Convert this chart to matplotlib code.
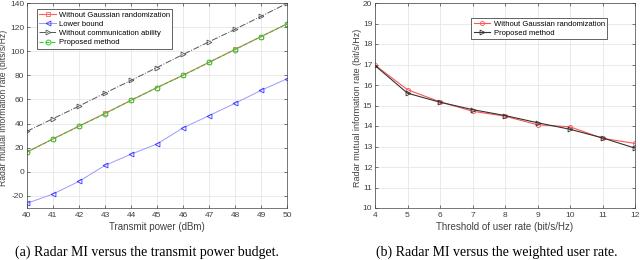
import matplotlib
matplotlib.use('Agg')
import matplotlib.pyplot as plt

# (a) radar MI versus transmit power budget
power_dbm = [40, 41, 42, 43, 44, 45, 46, 47, 48, 49, 50]
mi_no_gauss_a = [16.5, 27.3, 37.9, 48.4, 59.3, 69.9, 80.1, 90.8, 101.5, 112.1, 122.7]
mi_lower_bound = [-26.1, -18.4, -7.9, 5.3, 14.6, 23.1, 36.4, 46.6, 56.8, 67.5, 77.2]
mi_no_comm = [33.6, 44.1, 54.5, 65.3, 75.8, 86.5, 97.3, 107.8, 118.2, 128.9, 139.7]
mi_proposed_a = [16.3, 27.3, 37.8, 48.3, 59.3, 69.8, 80.0, 90.7, 101.4, 112.1, 122.6]

# (b) radar MI versus user rate threshold
rate_threshold = [4, 5, 6, 7, 8, 9, 10, 11, 12]
mi_no_gauss_b = [16.97, 15.77, 15.18, 14.72, 14.48, 14.06, 13.96, 13.40, 13.15]
mi_proposed_b = [16.95, 15.60, 15.16, 14.80, 14.51, 14.16, 13.84, 13.42, 12.92]

plt.rcParams['font.family'] = ['Liberation Sans', 'DejaVu Sans']
plt.rcParams['axes.unicode_minus'] = False

TICK_COLOR = '#404040'
GRID_COLOR = '#e6e6e6'


def style_axes(ax):
    ax.grid(True, color=GRID_COLOR, linewidth=0.6)
    ax.set_axisbelow(True)
    ax.tick_params(direction='in', length=2.5, width=0.5, labelsize=6,
                   colors=TICK_COLOR, top=True, right=True)
    ax.tick_params(axis='y', pad=2)
    ax.tick_params(axis='x', pad=3)
    for sp in ax.spines.values():
        sp.set_color('#404040')
        sp.set_linewidth(0.5)


def style_legend(leg):
    leg.get_frame().set_edgecolor('#262626')
    leg.get_frame().set_linewidth(0.5)


fig = plt.figure(figsize=(6.4, 2.6), dpi=100)

# left panel
ax1 = fig.add_axes([27 / 640, 1 - 208 / 260, 260 / 640, 205 / 260])
ax1.plot(power_dbm, mi_no_gauss_a, color='#ff6060', linestyle='-', linewidth=0.8,
         marker='s', markersize=3, markerfacecolor='none', markeredgewidth=0.6,
         label='Without Gaussian randomization')
ax1.plot(power_dbm, mi_lower_bound, color='#9999ff', linestyle='-', linewidth=0.7,
         marker='<', markersize=3.5, markerfacecolor='none', markeredgecolor='#3333ff',
         markeredgewidth=0.6, label='Lower bound')
ax1.plot(power_dbm, mi_no_comm, color='#555555', linestyle='-.', linewidth=0.7,
         marker='>', markersize=3.5, markerfacecolor='none', markeredgewidth=0.6,
         label='Without communication ability')
ax1.plot(power_dbm, mi_proposed_a, color='#33cc33', linestyle='--', linewidth=0.8,
         marker='o', markersize=3.5, markerfacecolor='none', markeredgewidth=0.7,
         label='Proposed method')
ax1.set_xlim(40, 50)
ax1.set_ylim(-30, 140)
ax1.set_xticks(power_dbm)
ax1.set_yticks(range(-20, 141, 20))
style_axes(ax1)
ax1.set_xlabel('Transmit power (dBm)', fontsize=7, color=TICK_COLOR, labelpad=2)
ax1.set_ylabel('Radar mutual information rate (bits/s/Hz)', fontsize=6.2,
               color=TICK_COLOR)
ax1.yaxis.set_label_coords(-0.072, 0.49)
leg1 = ax1.legend(loc='upper left', bbox_to_anchor=(0.038, 0.971), fontsize=5.5,
                  handlelength=2.2, handletextpad=0.4, borderpad=0.3,
                  labelspacing=0.25, fancybox=False, framealpha=1, borderaxespad=0)
style_legend(leg1)

# right panel
ax2 = fig.add_axes([375 / 640, 1 - 208 / 260, 260 / 640, 205 / 260])
ax2.plot(rate_threshold, mi_no_gauss_b, color='#ff5555', linestyle='-', linewidth=0.8,
         marker='o', markersize=3, markerfacecolor='none', markeredgewidth=0.6,
         label='Without Gaussian randomization')
ax2.plot(rate_threshold, mi_proposed_b, color='#333333', linestyle='-', linewidth=0.8,
         marker='>', markersize=3.5, markerfacecolor='none', markeredgewidth=0.6,
         label='Proposed method')
ax2.set_xlim(4, 12)
ax2.set_ylim(10, 20)
ax2.set_xticks(rate_threshold)
ax2.set_yticks(range(10, 21))
style_axes(ax2)
ax2.set_xlabel('Threshold of user rate (bit/s/Hz)', fontsize=7, color=TICK_COLOR,
               labelpad=2)
ax2.set_ylabel('Radar mutual information rate (bit/s/Hz)', fontsize=6.5,
               color=TICK_COLOR)
ax2.yaxis.set_label_coords(-0.05, 0.49)
leg2 = ax2.legend(loc='upper right', bbox_to_anchor=(0.892, 0.927), fontsize=5.5,
                  handlelength=2.2, handletextpad=0.4, borderpad=0.3,
                  labelspacing=0.25, fancybox=False, framealpha=1, borderaxespad=0)
style_legend(leg2)

# captions
fig.text(147 / 640, 1 - 252 / 260, '(a) Radar MI versus the transmit power budget.',
         ha='center', va='center', fontsize=10, family='Liberation Serif')
fig.text(497 / 640, 1 - 252 / 260, '(b) Radar MI versus the weighted user rate.',
         ha='center', va='center', fontsize=10, family='Liberation Serif')

fig.savefig('out.png', dpi=100)
